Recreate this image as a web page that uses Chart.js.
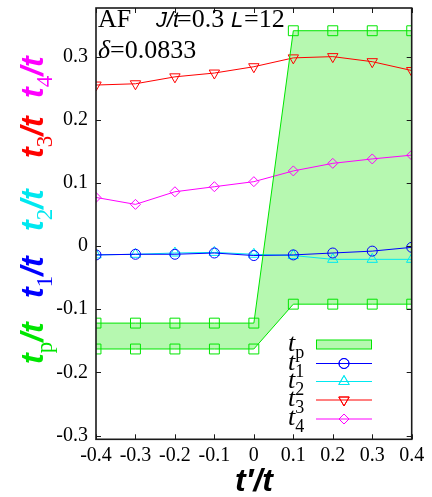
<!DOCTYPE html>
<html>
<head>
<meta charset="utf-8">
<script src="https://cdn.jsdelivr.net/npm/chart.js@4/dist/chart.umd.min.js"></script>
<style>
  html, body { margin: 0; padding: 0; background: #ffffff; }
  #wrap { width: 432px; height: 497px; }
</style>
</head>
<body>
<div id="wrap"><canvas id="c" width="432" height="497"></canvas></div>
<script>
// Hopping amplitudes versus t'/t (AF, J/t = 0.3, L = 12, delta = 0.0833)
const tPrime  = [-0.4, -0.3, -0.2, -0.1, 0.0, 0.1, 0.2, 0.3, 0.4];
const tpUpper = [-0.122, -0.122, -0.122, -0.122, -0.122, 0.341, 0.341, 0.341, 0.341];
const tpLower = [-0.163, -0.163, -0.163, -0.163, -0.163, -0.092, -0.092, -0.092, -0.092];
const t1 = [-0.014, -0.013, -0.013, -0.011, -0.015, -0.014, -0.011, -0.008, -0.002];
const t2 = [-0.014, -0.013, -0.011, -0.010, -0.013, -0.015, -0.021, -0.021, -0.021];
const t3 = [0.255, 0.257, 0.268, 0.274, 0.284, 0.298, 0.300, 0.292, 0.278];
const t4 = [0.077, 0.066, 0.086, 0.094, 0.102, 0.119, 0.131, 0.138, 0.144];
const xTicks = [-0.4, -0.3, -0.2, -0.1, 0, 0.1, 0.2, 0.3, 0.4];
const yTicks = [-0.3, -0.2, -0.1, 0, 0.1, 0.2, 0.3];

const GREEN = '#00e600', BLUE = '#0000ff', CYAN = '#00e8f0', RED = '#ff0000', MAGENTA = '#ff00ff';
const FILL = '#b6f8b0';

const pts = (ys) => tPrime.map((x, i) => ({ x, y: ys[i] }));
const fmt = (v) => (Math.abs(v) < 1e-9 ? '0' : v.toFixed(1));

function series(data, color, style, radius, rotation, extra) {
  return Object.assign({
    data: pts(data),
    borderColor: color,
    borderWidth: 1,
    pointStyle: style,
    pointRadius: radius,
    pointRotation: rotation || 0,
    pointBorderColor: color,
    pointBackgroundColor: 'rgba(0,0,0,0)',
    pointBorderWidth: 1,
    tension: 0,
    fill: false
  }, extra || {});
}

// draw a sequence of [text, font, dy] runs starting at (x, y)
function runs(ctx, x, y, items, color) {
  let cx = x;
  for (const [text, font, dy] of items) {
    ctx.font = font;
    ctx.fillStyle = color;
    ctx.fillText(text, cx, y + (dy || 0));
    cx += ctx.measureText(text).width;
  }
  return cx;
}

const SANS_I = 'italic bold 32px "Liberation Sans", Arial, sans-serif';
const SUB = '23px "Liberation Serif", "Times New Roman", serif';

const decorations = {
  id: 'decorations',
  afterDraw(chart) {
    const { ctx, chartArea: a, scales: { x, y } } = chart;
    ctx.save();

    // inward ticks on all four sides
    ctx.strokeStyle = '#1a1a1a';
    ctx.lineWidth = 1;
    ctx.beginPath();
    for (const v of xTicks) {
      const px = Math.round(x.getPixelForValue(v)) + 0.5;
      ctx.moveTo(px, a.bottom); ctx.lineTo(px, a.bottom - 5);
      ctx.moveTo(px, a.top); ctx.lineTo(px, a.top + 5);
    }
    for (const v of yTicks) {
      const py = Math.round(y.getPixelForValue(v)) + 0.5;
      ctx.moveTo(a.left, py); ctx.lineTo(a.left + 5, py);
      ctx.moveTo(a.right, py); ctx.lineTo(a.right - 5, py);
    }
    ctx.stroke();

    // frame
    ctx.lineWidth = 1.6;
    ctx.strokeStyle = '#1a1a1a';
    ctx.strokeRect(a.left, a.top, a.right - a.left, a.bottom - a.top);

    // parameter annotation
    ctx.textAlign = 'left';
    ctx.textBaseline = 'alphabetic';
    const SERIF = '26px "Liberation Serif", "Times New Roman", serif';
    const ISANS = 'italic 22px "Liberation Sans", Arial, sans-serif';
    runs(ctx, 98, 27, [['AF', SERIF]], '#000');
    runs(ctx, 156, 27, [['J/t', ISANS]], '#000');
    runs(ctx, 177, 27, [['=0.3', SERIF]], '#000');
    runs(ctx, 231, 27, [['L', ISANS]], '#000');
    runs(ctx, 244, 27, [['=12', SERIF]], '#000');
    runs(ctx, 98, 58, [['\u03B4', 'italic 26px "Liberation Serif", serif'], ['=0.0833', SERIF]], '#000');

    // legend
    const LI = 'italic 26px "Liberation Serif", "Times New Roman", serif';
    const LS = '18px "Liberation Serif", "Times New Roman", serif';
    const rows = [
      { sub: 'p', y: 344.5, ds: 0 },
      { sub: '1', y: 363.5, ds: 2 },
      { sub: '2', y: 381.5, ds: 3 },
      { sub: '3', y: 400.0, ds: 4 },
      { sub: '4', y: 419.0, ds: 5 }
    ];
    const x0 = 316, x1 = 372, xm = 344;
    for (const r of rows) {
      runs(ctx, 288, r.y + 6, [['t', LI], [r.sub, LS, 7]], '#000');
      const d = chart.data.datasets[r.ds];
      if (r.ds === 0) {
        ctx.fillStyle = FILL;
        ctx.fillRect(x0, r.y - 4.5, x1 - x0, 9);
        ctx.strokeStyle = GREEN;
        ctx.lineWidth = 1;
        ctx.strokeRect(x0 + 0.5, r.y - 4.5, x1 - x0 - 1, 9);
      } else {
        ctx.strokeStyle = d.borderColor;
        ctx.lineWidth = 1;
        ctx.beginPath();
        ctx.moveTo(x0, r.y); ctx.lineTo(x1, r.y);
        ctx.stroke();
        ctx.fillStyle = 'rgba(0,0,0,0)';
        Chart.helpers.drawPoint(ctx, {
          pointStyle: d.pointStyle, radius: d.pointRadius,
          rotation: d.pointRotation, borderWidth: 1
        }, xm, r.y);
        ctx.stroke();
      }
    }

    // y-axis title: five coloured labels, rotated
    const groups = [
      { sub: 'p', color: GREEN, y0: 364 },
      { sub: '1', color: BLUE, y0: 298 },
      { sub: '2', color: CYAN, y0: 231 },
      { sub: '3', color: RED, y0: 158 },
      { sub: '4', color: MAGENTA, y0: 98 }
    ];
    for (const g of groups) {
      ctx.save();
      ctx.translate(43, g.y0);
      ctx.rotate(-Math.PI / 2);
      runs(ctx, 0, 0, [['t', SANS_I], [g.sub, SUB, 9], ['/t', SANS_I]], g.color);
      ctx.restore();
    }

    // x-axis title
    ctx.font = SANS_I;
    ctx.fillStyle = '#000';
    ctx.textAlign = 'center';
    ctx.fillText('t\u2032/t', 254, 491);

    ctx.restore();
  }
};

new Chart(document.getElementById('c'), {
  type: 'line',
  data: {
    datasets: [
      series(tpUpper, GREEN, 'rect', 7, 0, { fill: '+1', backgroundColor: FILL }),
      series(tpLower, GREEN, 'rect', 7, 0),
      series(t1, BLUE, 'circle', 5, 0),
      series(t2, CYAN, 'triangle', 6, 0),
      series(t3, RED, 'triangle', 6, 180),
      series(t4, MAGENTA, 'rectRot', 5, 0)
    ]
  },
  options: {
    responsive: false,
    animation: false,
    devicePixelRatio: 1,
    events: [],
    layout: { padding: { top: 2.7, right: 20.3, left: 0, bottom: 0 } },
    plugins: {
      legend: { display: false },
      tooltip: { enabled: false },
      filler: { drawTime: 'beforeDatasetsDraw' }
    },
    scales: {
      x: {
        type: 'linear',
        min: -0.4, max: 0.4,
        afterBuildTicks: (s) => { s.ticks = xTicks.map((v) => ({ value: v })); },
        afterFit: (s) => { s.height = 497 - 439.3; s.paddingLeft = 0; s.paddingRight = 0; },
        grid: { display: false, drawTicks: false },
        border: { display: false },
        ticks: {
          padding: 4,
          color: '#000',
          font: { family: '"Liberation Serif", "Times New Roman", serif', size: 20 },
          callback: (v) => fmt(v),
          maxRotation: 0,
          autoSkip: false
        }
      },
      y: {
        type: 'linear',
        min: -0.306, max: 0.377,
        afterBuildTicks: (s) => { s.ticks = yTicks.map((v) => ({ value: v })); },
        afterFit: (s) => { s.width = 96; s.paddingTop = 0; s.paddingBottom = 0; },
        grid: { display: false, drawTicks: false },
        border: { display: false },
        ticks: {
          padding: 8,
          color: '#000',
          font: { family: '"Liberation Serif", "Times New Roman", serif', size: 20 },
          callback: (v) => fmt(v),
          autoSkip: false
        }
      }
    }
  },
  plugins: [decorations]
});
</script>
</body>
</html>
